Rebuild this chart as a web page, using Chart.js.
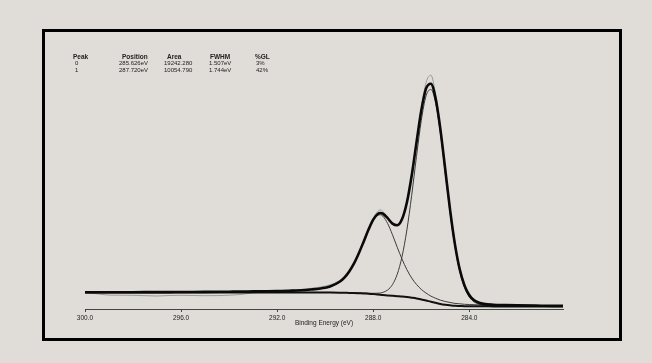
<!DOCTYPE html>
<html>
<head>
<meta charset="utf-8">
<script src="https://cdn.jsdelivr.net/npm/chart.js@4.4.0/dist/chart.umd.min.js"></script>
<style>
  html, body { margin: 0; padding: 0; background: #e0ddd8; }
  body { width: 652px; height: 363px; position: relative; overflow: hidden; font-family: "Liberation Sans", Arial, sans-serif; }
  #frame { position: absolute; left: 42px; top: 29px; width: 580px; height: 312px; border: 3px solid #000; box-sizing: border-box; }
  #xps { position: absolute; left: 0; top: 0; }
  .pk { position: absolute; font-size: 6px; line-height: 6px; color: #222; white-space: nowrap; }
  .pk.h { font-weight: bold; font-size: 6.5px; }
</style>
</head>
<body>
<div id="frame"></div>
<canvas id="xps" width="652" height="363"></canvas>
<div id="peakTable"></div>
<script>
// Binding energy grid (eV)
const energies = [300, 299.5, 299, 298, 297, 296.5, 296, 295, 294, 293.5, 293, 292, 291.5, 291, 290.6, 290.2, 289.8, 289.4, 289.2, 289.0,
  288.8, 288.6, 288.4, 288.2, 288.0, 287.8, 287.7, 287.6, 287.4, 287.2, 287.0, 286.8, 286.6, 286.4, 286.2, 286.0, 285.8, 285.6, 285.4, 285.2,
  285.0, 284.8, 284.6, 284.4, 284.2, 284.0, 283.8, 283.6, 283.4, 283.0, 282.5, 282.0, 281.0, 280.1];

// Raw spectrum (thin grey)
const rawCounts = [16.6, 15.2, 13.9, 13.7, 13.0, 13.5, 13.7, 13.3, 13.8, 14.6, 16.2, 17.4, 18.6, 19.5, 20.6, 22.0, 24.1, 28.6, 32.6, 38.3,
  46.0, 56.0, 67.8, 80.2, 91.0, 97.8, 99.2, 97.5, 91.5, 85.6, 83.9, 89.6, 106.0, 133.8, 167.5, 200.6, 226.5, 233.8, 214.0, 180.2,
  139.5, 99.8, 66.4, 41.8, 25.8, 15.6, 9.8, 6.6, 5.0, 3.9, 3.1, 2.8, 2.7, 2.6];

// Fitted envelope (thick black)
const envelope = [16.8, 16.8, 16.8, 16.8, 16.9, 16.9, 17.0, 17.1, 17.3, 17.4, 17.6, 17.9, 18.3, 18.8, 19.5, 20.5, 22.5, 27.2, 31.4, 37.5,
  45.6, 55.8, 67.3, 79.2, 89.3, 95.2, 96.0, 95.3, 90.8, 85.4, 83.7, 89.9, 106.5, 133.3, 166.4, 198.5, 220.6, 225.3, 210.2, 178.9,
  139.0, 98.9, 64.9, 39.7, 23.4, 13.8, 8.7, 6.3, 5.1, 4.3, 3.9, 3.6, 3.3, 3.1];

// Peak 0 (285.6 eV) drawn on the background
const peak0 = [16.6, 16.6, 16.6, 16.6, 16.6, 16.6, 16.6, 16.6, 16.6, 16.6, 16.6, 16.6, 16.6, 16.6, 16.6, 16.6, 16.6, 16.5, 16.5, 16.4,
  16.3, 16.2, 16.0, 15.8, 15.7, 15.8, 16.0, 16.6, 19.0, 24.4, 34.8, 52.6, 79.0, 113.6, 152.5, 188.5, 213.2, 219.6, 205.7, 175.1,
  135.8, 96.2, 62.4, 37.6, 21.4, 12.0, 7.1, 4.8, 3.8, 3.1, 2.9, 2.9, 2.8, 2.7];

// Peak 1 (287.7 eV) drawn on the background
const peak1 = [16.8, 16.8, 16.8, 16.8, 16.9, 16.9, 17.0, 17.1, 17.2, 17.4, 17.5, 17.8, 18.2, 18.7, 19.4, 20.3, 22.3, 27.0, 31.2, 37.2,
  45.3, 55.4, 66.9, 78.6, 88.6, 93.9, 94.2, 92.8, 85.5, 74.3, 61.7, 49.8, 39.4, 31.0, 24.6, 19.6, 15.9, 12.9, 10.7, 8.8,
  7.5, 6.5, 5.6, 5.2, 4.7, 4.5, 4.3, 4.1, 4.0, 3.7, 3.5, 3.4, 3.2, 3.0];

// Shirley background
const background = [16.6, 16.6, 16.6, 16.6, 16.6, 16.6, 16.6, 16.6, 16.6, 16.6, 16.6, 16.5, 16.5, 16.5, 16.5, 16.4, 16.4, 16.3, 16.2, 16.1,
  16.0, 15.8, 15.6, 15.2, 14.9, 14.4, 14.2, 14.0, 13.6, 13.2, 12.8, 12.4, 11.9, 11.3, 10.6, 9.6, 8.5, 7.3, 6.2, 5.1,
  4.3, 3.7, 3.2, 3.0, 2.8, 2.7, 2.7, 2.7, 2.7, 2.6, 2.6, 2.6, 2.6, 2.6];

const tickValues = [300, 296, 292, 288, 284];

// Peak table text
const peakHeaders = ['Peak', 'Position', 'Area', 'FWHM', '%GL'];
const peakIds = ['0', '1'];
const peakPositions = ['285.626eV', '287.720eV'];
const peakAreas = ['19242.280', '10054.790'];
const peakFwhms = ['1.507eV', '1.744eV'];
const peakGLs = ['3%', '42%'];

// --- peak table ---
(function () {
  const headX = [73, 122, 167, 210, 255];
  const cellX = [75, 119, 164, 209, 256];
  const rowY = [54, 60, 66.5];
  let html = peakHeaders.map((h, i) =>
    `<div class="pk h" style="left:${headX[i]}px;top:${rowY[0]}px">${h}</div>`).join('');
  peakIds.forEach((id, r) => {
    const cells = [id, peakPositions[r], peakAreas[r], peakFwhms[r], peakGLs[r]];
    html += cells.map((c, i) =>
      `<div class="pk" style="left:${cellX[i]}px;top:${rowY[r + 1]}px">${c}</div>`).join('');
  });
  document.getElementById('peakTable').innerHTML = html;
})();

// --- chart ---
function pts(values) {
  return energies.map((e, i) => ({ x: e, y: values[i] }));
}

function line(label, values, color, width) {
  return {
    label,
    data: pts(values),
    borderColor: color,
    borderWidth: width,
    pointRadius: 0,
    fill: false,
    cubicInterpolationMode: 'monotone'
  };
}

new Chart(document.getElementById('xps'), {
  type: 'line',
  data: {
    datasets: [
      line('Envelope', envelope, '#0a0a0a', 2.6),
      line('Background', background, '#111', 2),
      line('Peak 0', peak0, '#3c3c3c', 1),
      line('Peak 1', peak1, '#3c3c3c', 1),
      line('Raw', rawCounts, '#9a9a9a', 1)
    ]
  },
  options: {
    responsive: false,
    animation: false,
    devicePixelRatio: 1,
    layout: { padding: { left: 85, right: 89, top: 59, bottom: 35.4 } },
    plugins: { legend: { display: false }, tooltip: { enabled: false } },
    scales: {
      x: {
        type: 'linear',
        reverse: true,
        min: 280.1,
        max: 300,
        afterBuildTicks: axis => { axis.ticks = tickValues.map(v => ({ value: v })); },
        grid: { drawOnChartArea: false, drawTicks: true, tickLength: 3, color: '#444' },
        border: { display: true, color: '#444', width: 1 },
        ticks: {
          padding: 2,
          color: '#222',
          font: { family: '"Liberation Sans", Arial, sans-serif', size: 6.5 },
          maxRotation: 0,
          autoSkip: false,
          callback: v => Number(v).toFixed(1)
        },
        title: {
          display: true,
          text: 'Binding Energy (eV)',
          color: '#222',
          font: { family: '"Liberation Sans", Arial, sans-serif', size: 6.5 },
          padding: { top: -4, bottom: 0 }
        }
      },
      y: { display: false, min: 0, max: 250 }
    }
  }
});
</script>
</body>
</html>
